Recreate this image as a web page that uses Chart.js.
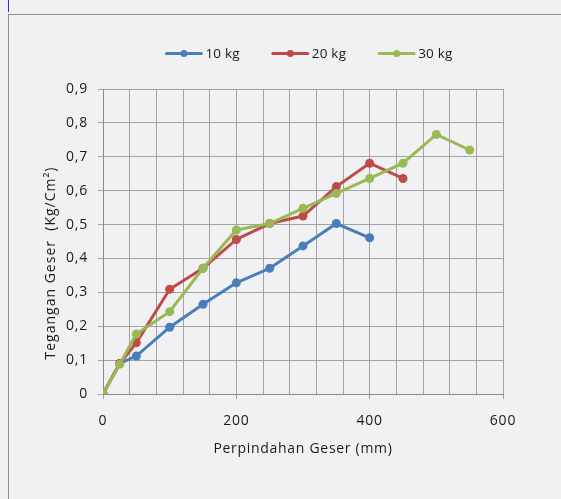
<!DOCTYPE html>
<html>
<head>
<meta charset="utf-8">
<script src="https://cdn.jsdelivr.net/npm/chart.js@4.4.1/dist/chart.umd.min.js"></script>
<style>
  html, body { margin: 0; padding: 0; background: #f1f1f3; }
  #wrap { position: relative; width: 561px; height: 499px; }
  canvas { display: block; }
</style>
</head>
<body>
<div id="wrap"><canvas id="chart" width="561" height="499"></canvas></div>
<script>
// Shear displacement (mm) at each reading
const displacement = [0, 25, 50, 100, 150, 200, 250, 300, 350, 400, 450, 500, 550];

// Shear stress (kg/cm²) for each normal load
const load10 = [0, 0.09, 0.112, 0.197, 0.265, 0.328, 0.371, 0.437, 0.503, 0.461];
const load20 = [0, 0.09, 0.151, 0.309, 0.371, 0.456, 0.503, 0.525, 0.612, 0.681, 0.636];
const load30 = [0, 0.088, 0.177, 0.243, 0.371, 0.484, 0.503, 0.548, 0.592, 0.636, 0.681, 0.766, 0.72];

const seriesLabels = ['10 kg', '20 kg', '30 kg'];
const seriesColors = ['#4a7ebb', '#be4b48', '#98b954'];

const xTickLabels = ['0', '200', '400', '600'];
const yTickLabels = ['0', '0,1', '0,2', '0,3', '0,4', '0,5', '0,6', '0,7', '0,8', '0,9'];

const xTitle = 'Perpindahan Geser (mm)';
const yTitle = 'Tegangan Geser  (Kg/Cm²)';

const FONT = '"Open Sans", Lato, sans-serif';
const TEXT = '#1a1a1a';
const GRID = '#a2a2a4';
const AXIS = '#8a8a8c';

function toPoints(values) {
  return values.map((v, i) => ({ x: displacement[i], y: v }));
}

const seriesValues = [load10, load20, load30];
const datasets = seriesValues.map((vals, i) => ({
  label: seriesLabels[i],
  data: toPoints(vals),
  borderColor: seriesColors[i],
  backgroundColor: seriesColors[i],
  pointBackgroundColor: seriesColors[i],
  pointBorderColor: seriesColors[i],
  borderWidth: 3,
  pointRadius: 4.5,
  pointBorderWidth: 0,
  tension: 0,
  order: 2 - i
}));

// Frame, axis titles and legend drawn around the plot
const decorations = {
  id: 'decorations',
  beforeDraw(chart) {
    const ctx = chart.ctx;
    ctx.save();
    ctx.fillStyle = '#f1f1f3';
    ctx.fillRect(0, 0, chart.width, chart.height);
    ctx.strokeStyle = '#8e8e90';
    ctx.lineWidth = 1;
    ctx.beginPath();
    ctx.moveTo(8.5, 14);
    ctx.lineTo(8.5, chart.height);
    ctx.moveTo(8, 14.5);
    ctx.lineTo(chart.width, 14.5);
    ctx.stroke();
    ctx.strokeStyle = '#2233dd';
    ctx.beginPath();
    ctx.moveTo(8.5, 0);
    ctx.lineTo(8.5, 12);
    ctx.stroke();
    ctx.restore();
    // slightly open letter spacing for all axis text
    ctx.letterSpacing = '0.8px';
  },
  afterDraw(chart) {
    const ctx = chart.ctx;
    const area = chart.chartArea;
    ctx.save();
    ctx.fillStyle = TEXT;
    ctx.font = '14px ' + FONT;
    ctx.letterSpacing = '0.7px';
    ctx.textBaseline = 'middle';

    // x-axis title
    ctx.textAlign = 'center';
    ctx.fillText(xTitle, (area.left + area.right) / 2, 449);

    // y-axis title
    ctx.save();
    ctx.translate(51, 263);
    ctx.rotate(-Math.PI / 2);
    ctx.letterSpacing = '1px';
    ctx.fillText(yTitle, 0, 0);
    ctx.restore();

    // legend
    ctx.font = '13.5px ' + FONT;
    ctx.letterSpacing = '0.2px';
    ctx.textAlign = 'left';
    const lineLen = 37, gap = 3, itemGap = 32;
    const widths = seriesLabels.map(t => lineLen + gap + ctx.measureText(t).width);
    const total = widths.reduce((a, b) => a + b, 0) + itemGap * (widths.length - 1);
    let x = 309 - total / 2;
    const y = 53.5;
    seriesLabels.forEach((t, i) => {
      ctx.strokeStyle = seriesColors[i];
      ctx.lineWidth = 3;
      ctx.lineCap = 'round';
      ctx.beginPath();
      ctx.moveTo(x + 1, y);
      ctx.lineTo(x + lineLen - 1, y);
      ctx.stroke();
      ctx.fillStyle = seriesColors[i];
      ctx.beginPath();
      ctx.arc(x + lineLen / 2, y, 3.5, 0, Math.PI * 2);
      ctx.fill();
      ctx.fillStyle = TEXT;
      ctx.fillText(t, x + lineLen + gap, y + 1);
      x += widths[i] + itemGap;
    });
    ctx.restore();
  }
};

new Chart(document.getElementById('chart'), {
  type: 'line',
  data: { datasets },
  plugins: [decorations],
  options: {
    responsive: false,
    animation: false,
    devicePixelRatio: 1,
    layout: { padding: { left: 0, top: 89, right: 58, bottom: 0 } },
    plugins: {
      legend: { display: false },
      tooltip: { enabled: false }
    },
    scales: {
      x: {
        type: 'linear',
        min: 0,
        max: 600,
        ticks: {
          stepSize: 40,
          autoSkip: false,
          maxRotation: 0,
          padding: 14,
          color: TEXT,
          font: { family: FONT, size: 14 },
          callback: (v) => (v % 200 === 0 ? xTickLabels[v / 200] : '')
        },
        grid: {
          color: GRID,
          lineWidth: 1,
          tickLength: 5,
          tickColor: (c) => (c.tick && c.tick.value % 200 === 0 ? GRID : 'rgba(0,0,0,0)')
        },
        border: { color: AXIS, width: 1 },
        afterFit: (s) => { s.height = 105; }
      },
      y: {
        min: 0,
        max: 0.9,
        ticks: {
          stepSize: 0.1,
          padding: 10,
          color: TEXT,
          font: { family: FONT, size: 14 },
          callback: (v, i) => yTickLabels[i]
        },
        grid: {
          color: GRID,
          lineWidth: 1,
          tickLength: 5,
          tickColor: GRID
        },
        border: { color: AXIS, width: 1 },
        afterFit: (s) => { s.width = 103; }
      }
    }
  }
});
</script>
</body>
</html>
